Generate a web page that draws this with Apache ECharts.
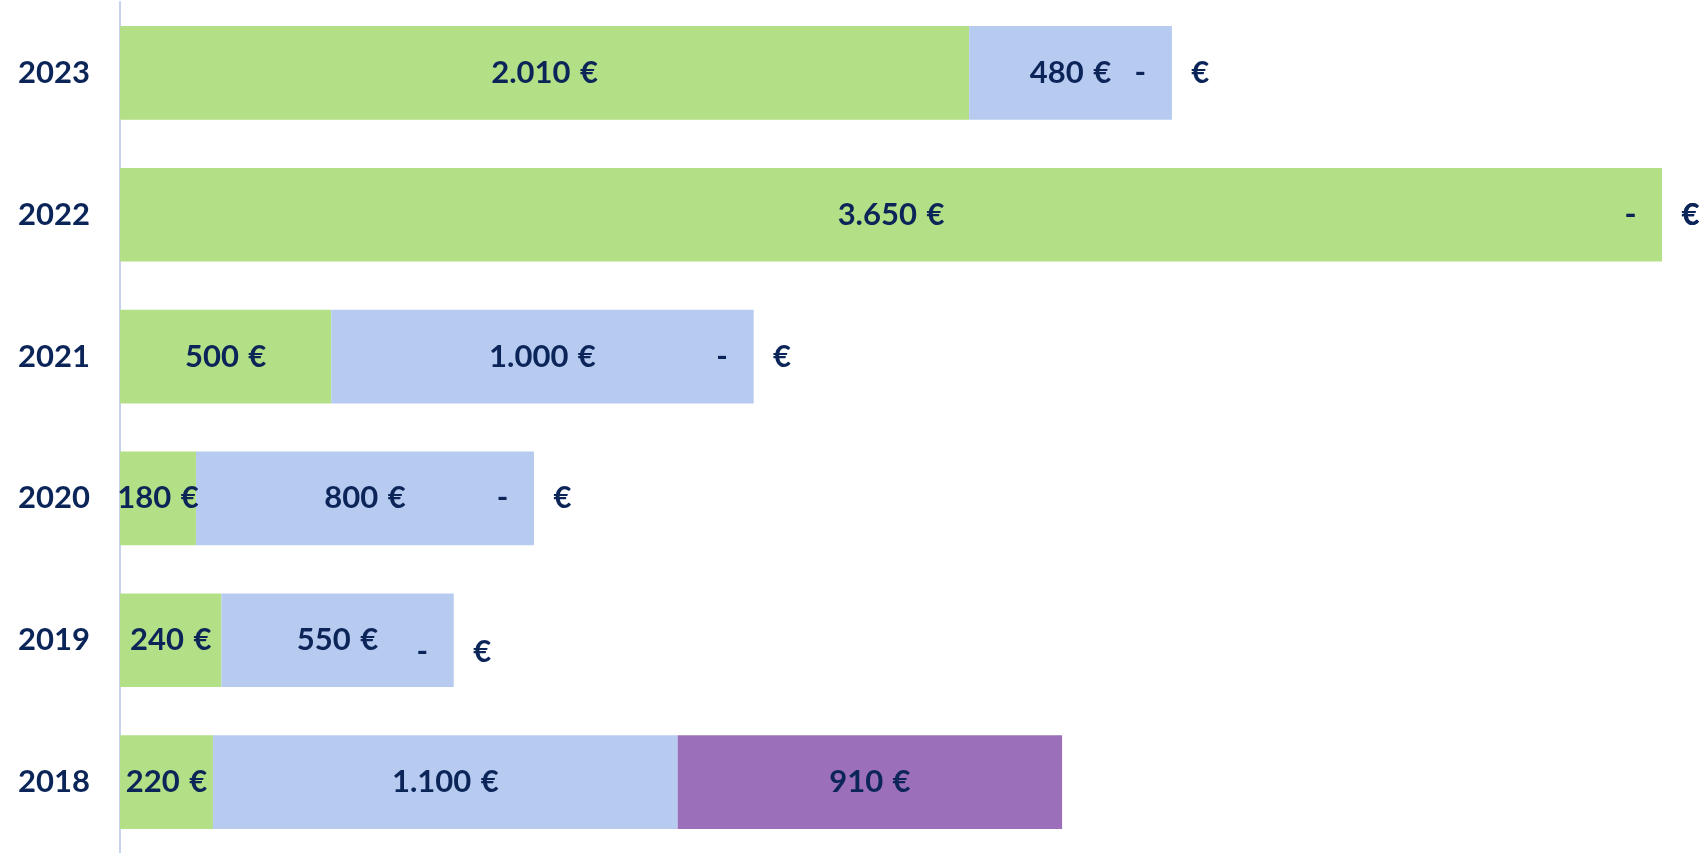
<!DOCTYPE html>
<html><head><meta charset="utf-8">
<script src="https://cdn.jsdelivr.net/npm/echarts@6/dist/echarts.min.js"></script>
<style>html,body{margin:0;padding:0;background:#fff}#c{width:1699px;height:853px}</style>
</head><body><div id="c"></div>
<script>
const years = ['2018','2019','2020','2021','2022','2023'];
const seriesA = [220, 240, 180, 500, 3650, 2010];
const seriesB = [1100, 550, 800, 1000, 0, 480];
const seriesC = [910, 0, 0, 0, 0, 0];

const TXT = '#0c2559';
function fmt(v){
  if (!v) return '-      €';
  return String(v).replace(/\B(?=(\d{3})+(?!\d))/g, '.') + ' \u200A€';
}
function build(arr){
  return arr.map((v,i)=>{
    const item = {value: v};
    if (v === 0 && years[i] === '2019') item.label = {offset:[0,12]};
    return item;
  });
}
const labelStyle = {
  show: true, position: 'inside', color: TXT,
  fontFamily: 'Lato', fontWeight: 'bold', fontSize: 31,
  formatter: p => fmt(p.value)
};
const colors = ['#b3df86', '#b7cbf1', '#9b6fba'];
const chart = echarts.init(document.getElementById('c'));
chart.setOption({
  animation: false,
  grid: {left: 120, right: 37, top: 2, bottom: 0, containLabel: false},
  xAxis: {type: 'value', min: 0, max: 3650, show: false},
  yAxis: {
    type: 'category', data: years,
    axisLine: {show: true, lineStyle: {color: '#c5d3ee', width: 2}},
    axisTick: {show: false},
    axisLabel: {color: TXT, fontFamily: 'Lato', fontWeight: 'bold', fontSize: 31, margin: 30}
  },
  series: [seriesA, seriesB, seriesC].map((arr, k) => ({
    type: 'bar', stack: 'total', data: build(arr),
    barCategoryGap: '34%',
    itemStyle: {color: colors[k]},
    label: labelStyle
  }))
});
</script></body></html>
